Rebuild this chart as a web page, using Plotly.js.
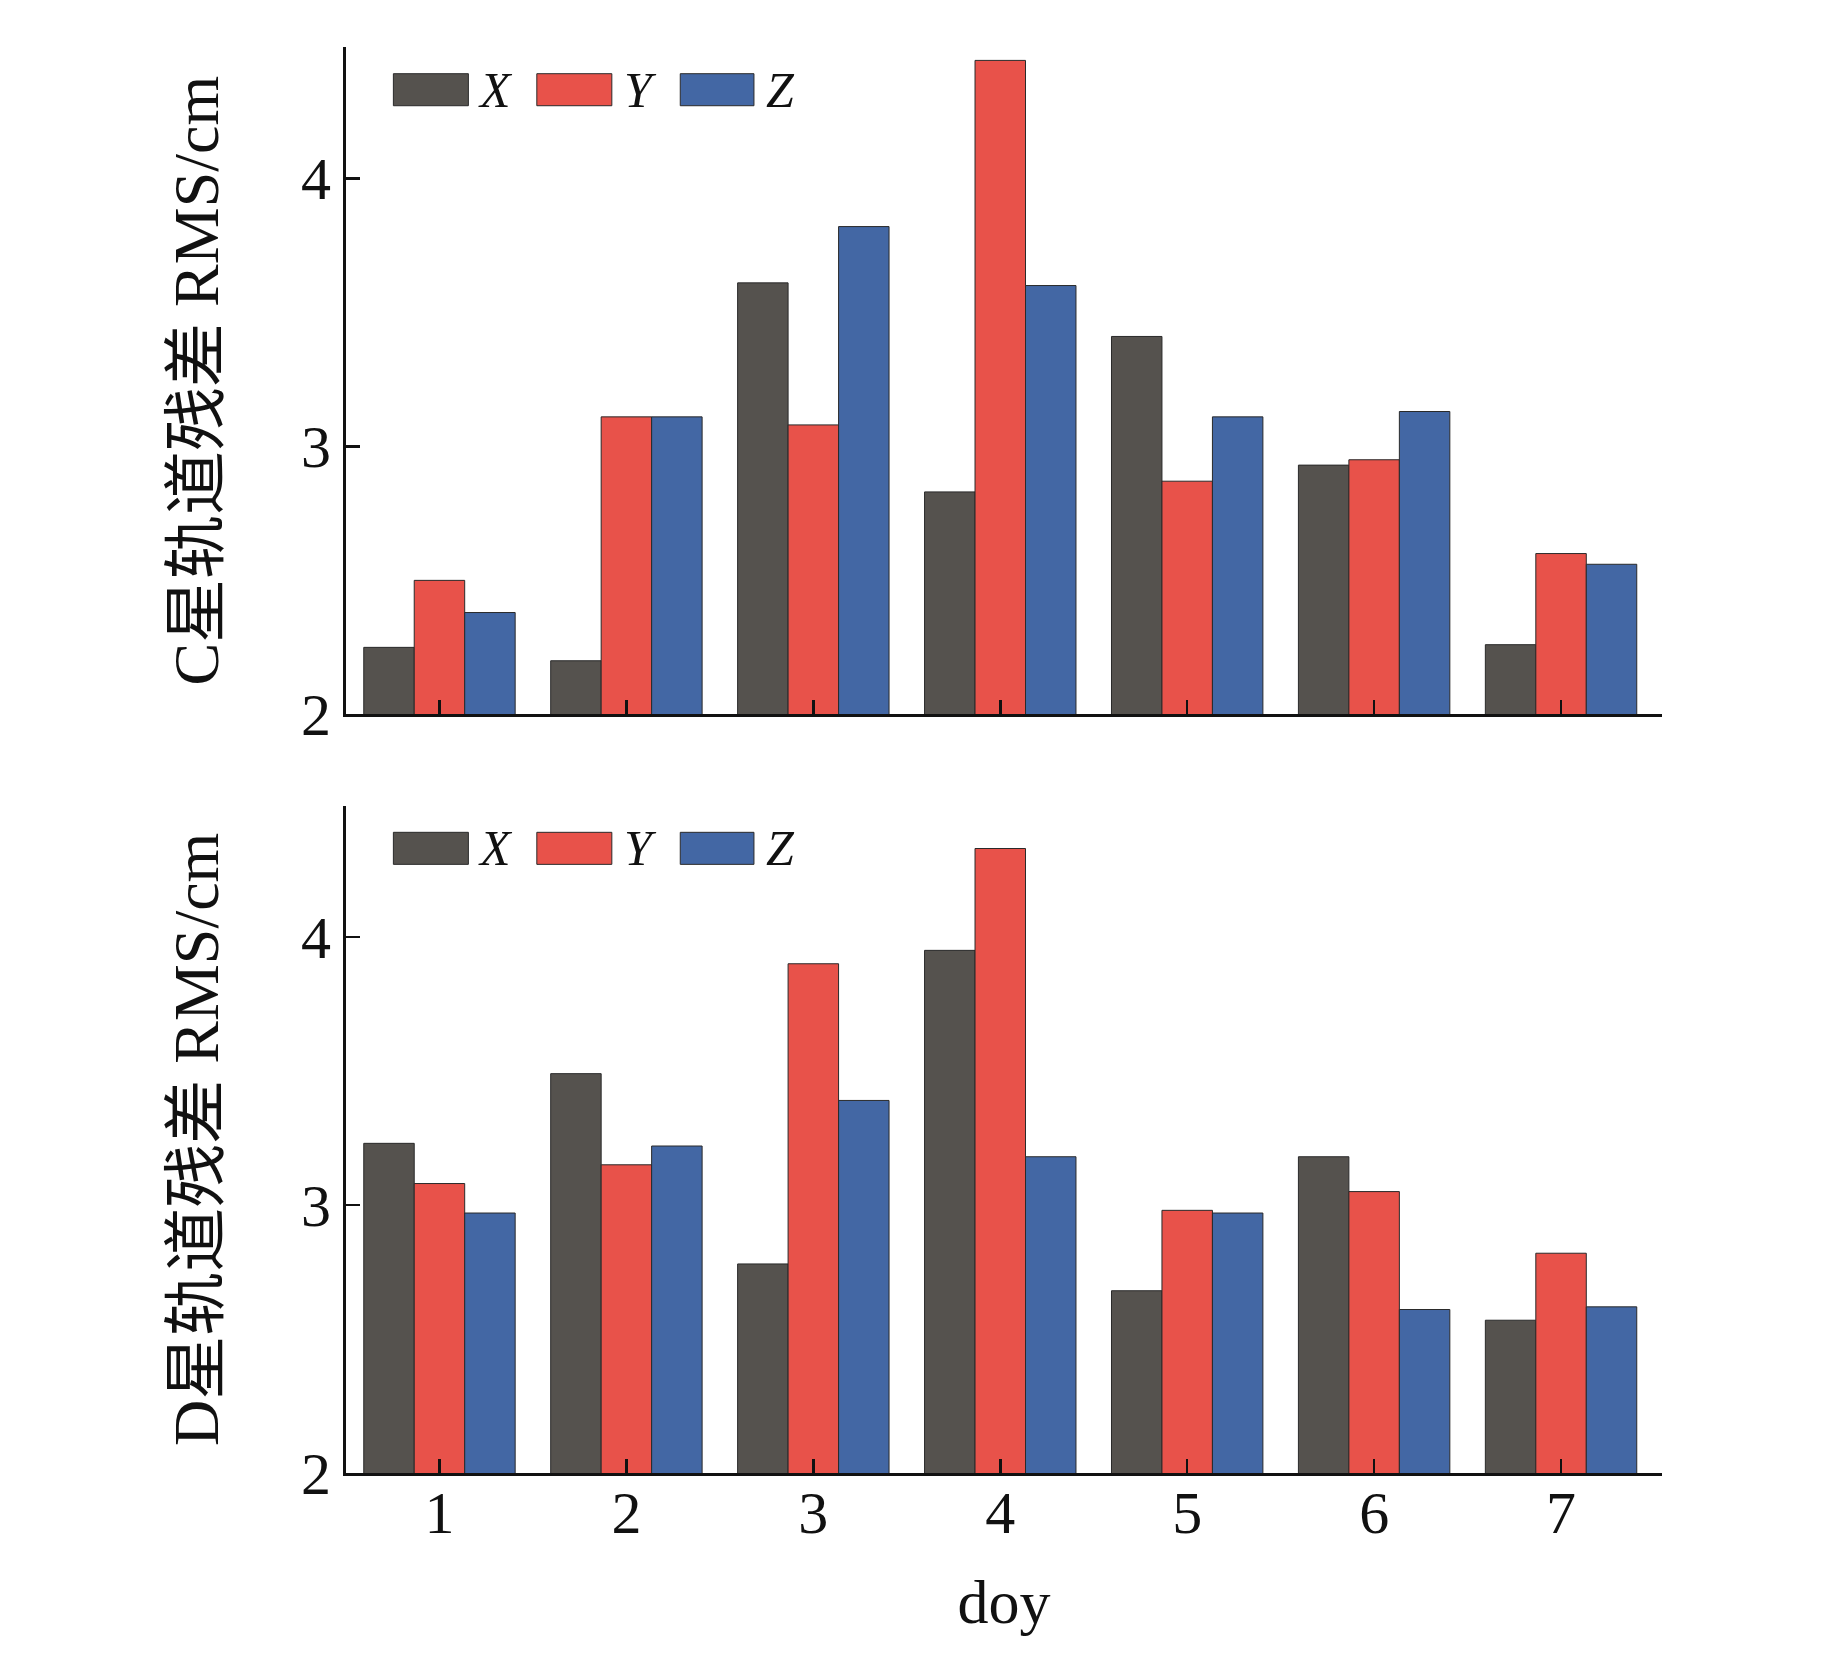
<!DOCTYPE html>
<html>
<head>
<meta charset="utf-8">
<script src="https://cdn.plot.ly/plotly-3.0.1.min.js"></script>
<style>html,body{margin:0;padding:0;background:#fff;}</style>
</head>
<body>
<div id="chart" style="width:1843px;height:1654px;"></div>
<script>
const days = [1, 2, 3, 4, 5, 6, 7];
const seriesNames = ['X', 'Y', 'Z'];
const seriesColors = ['#55524E', '#E8524A', '#4367A4'];
const cX = [2.25, 2.20, 3.61, 2.83, 3.41, 2.93, 2.26];
const cY = [2.50, 3.11, 3.08, 4.44, 2.87, 2.95, 2.60];
const cZ = [2.38, 3.11, 3.82, 3.60, 3.11, 3.13, 2.56];
const dX = [3.23, 3.49, 2.78, 3.95, 2.68, 3.18, 2.57];
const dY = [3.08, 3.15, 3.90, 4.33, 2.98, 3.05, 2.82];
const dZ = [2.97, 3.22, 3.39, 3.18, 2.97, 2.61, 2.62];
const yTicks = [2, 3, 4];
const titleC = 'C星轨道残差 RMS/cm';
const titleD = 'D星轨道残差 RMS/cm';
const xTitle = 'doy';

const FONT = 'Liberation Serif, "Noto Sans CJK SC", serif';

function mk(vals, i, xa, ya) {
  return {
    type: 'bar', x: days, y: vals, name: seriesNames[i], xaxis: xa, yaxis: ya,
    base: 0, showlegend: false,
    marker: {color: seriesColors[i], line: {color: '#2a2a2a', width: 1}}
  };
}
const data = [
  mk(cX, 0, 'x', 'y'), mk(cY, 1, 'x', 'y'), mk(cZ, 2, 'x', 'y'),
  mk(dX, 0, 'x2', 'y2'), mk(dY, 1, 'x2', 'y2'), mk(dZ, 2, 'x2', 'y2')
];

const axX = (showLabels, anchor) => ({
  anchor: anchor, range: [0.5, 7.54], tickvals: days, ticktext: days.map(String),
  showticklabels: showLabels, ticks: 'inside', ticklen: 14, tickwidth: 2.5, tickcolor: '#111',
  showline: true, linecolor: '#111', linewidth: 3, showgrid: false, zeroline: false,
  ticklabelstandoff: -15,
  tickfont: {family: FONT, size: 60, color: '#111'}
});
const axY = (domain, title, anchor) => ({
  anchor: anchor, domain: domain, range: [2, 4.49], tickvals: yTicks,
  ticks: 'inside', ticklen: 14, tickwidth: 2.5, tickcolor: '#111',
  showline: true, linecolor: '#111', linewidth: 3, showgrid: false, zeroline: false,
  tickfont: {family: FONT, size: 60, color: '#111'},
  title: {text: title, font: {family: FONT, size: 64, color: '#111'}, standoff: 62}
});

const shapes = [], annotations = [];
const legendPos = [[0.036, 0.093, 0.099], [0.145, 0.202, 0.210], [0.254, 0.310, 0.318]];
[['x', 'y'], ['x2', 'y2']].forEach(([xa, ya]) => {
  seriesNames.forEach((nm, i) => {
    const p = legendPos[i];
    shapes.push({type: 'rect', xref: xa + ' domain', yref: ya + ' domain',
      x0: p[0], x1: p[1], y0: 0.912, y1: 0.960,
      fillcolor: seriesColors[i], line: {color: '#2a2a2a', width: 1}});
    annotations.push({xref: xa + ' domain', yref: ya + ' domain', x: p[2], y: 0.936,
      xanchor: 'left', yanchor: 'middle', showarrow: false,
      text: '<i>' + nm + '</i>', font: {family: FONT, size: 50, color: '#111'}});
  });
});

const layout = {
  width: 1843, height: 1654,
  margin: {l: 346, r: 181, t: 47, b: 181},
  paper_bgcolor: '#fff', plot_bgcolor: '#fff',
  barmode: 'group', bargap: 0.19, bargroupgap: 0,
  xaxis: axX(false, 'y'),
  yaxis: axY([0.532, 1], titleC, 'x'),
  xaxis2: Object.assign(axX(true, 'y2'), {title: {text: xTitle, font: {family: FONT, size: 62, color: '#111'}, standoff: 35}}),
  yaxis2: axY([0, 0.468], titleD, 'x2'),
  shapes: shapes, annotations: annotations,
  showlegend: false
};
Plotly.newPlot('chart', data, layout, {staticPlot: true});
</script>
</body>
</html>
